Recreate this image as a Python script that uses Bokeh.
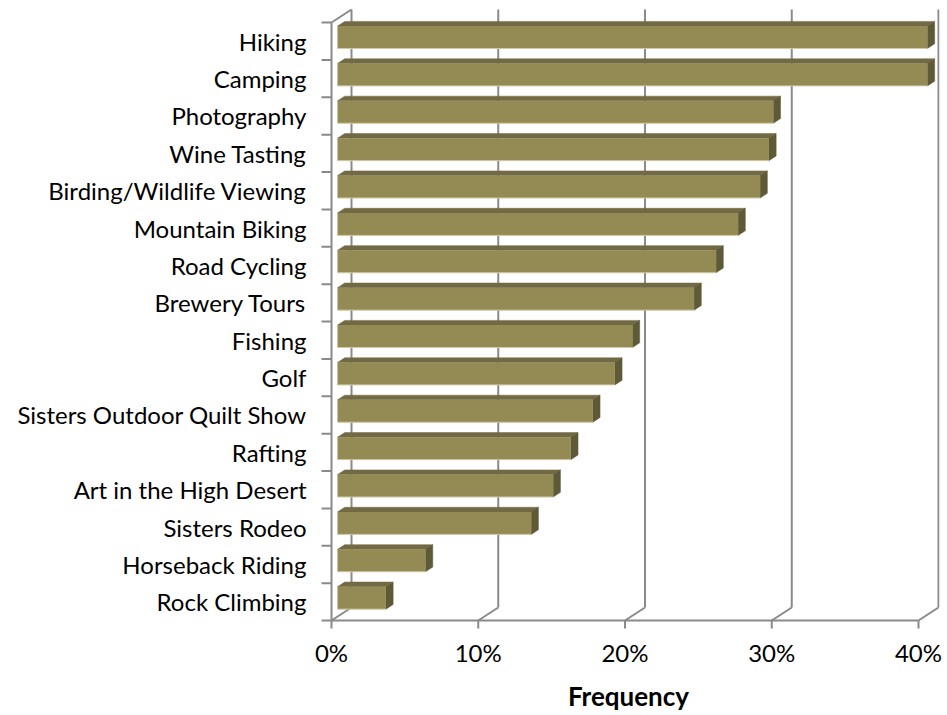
from bokeh.plotting import figure
from bokeh.models import Range1d, FixedTicker
from bokeh.embed import file_html
from bokeh.resources import INLINE

# ---- data ----
categories = ["Rock Climbing", "Horseback Riding", "Sisters Rodeo", "Art in the High Desert",
              "Rafting", "Sisters Outdoor Quilt Show", "Golf", "Fishing", "Brewery Tours",
              "Road Cycling", "Mountain Biking", "Birding/Wildlife Viewing", "Wine Tasting",
              "Photography", "Camping", "Hiking"]
frequency = [3.3, 6.0, 13.2, 14.7, 15.9, 17.4, 18.9, 20.1, 24.3, 25.8, 27.3, 28.8, 29.4,
             29.7, 40.2, 40.2]
x_ticks = [0, 10, 20, 30, 40]
x_tick_labels = ["0%", "10%", "20%", "30%", "40%"]
axis_title = "Frequency"

# ---- styling / geometry ----
FONT = "Lato"
FSIZE = "24px"
GRID = "#8a8a8a"
FRONT = "#948A54"
TOP = "#716A45"
SIDE = "#5E5937"
DX = 20 / 14.675      # depth offset in % units
DY = 13 / 37.375      # depth offset in category units
F0, F1 = 0.30, 0.66   # bar depth start / end fraction
BAR_H = 0.60
N = len(categories)
XMAX = x_ticks[-1]

p = figure(frame_width=622, frame_height=622, min_border_left=317, min_border_right=5,
           min_border_top=8, min_border_bottom=85,
           x_range=Range1d(-14 / 14.675, -14 / 14.675 + 622 / 14.675),
           y_range=Range1d(-10 / 37.375, -10 / 37.375 + 622 / 37.375),
           output_backend="svg", toolbar_location=None, tools="")
p.outline_line_color = None
p.xgrid.visible = False
p.ygrid.visible = False
p.background_fill_color = "white"

# back wall vertical gridlines
p.segment(x0=[t + DX for t in x_ticks], y0=[DY] * len(x_ticks),
          x1=[t + DX for t in x_ticks], y1=[N + DY] * len(x_ticks),
          line_color=GRID, line_width=2)
# floor diagonals
p.segment(x0=x_ticks, y0=[0] * len(x_ticks), x1=[t + DX for t in x_ticks],
          y1=[DY] * len(x_ticks), line_color=GRID, line_width=2)
# front bottom line & front left axis line & top-left diagonal
p.segment(x0=[0, 0, 0], y0=[0, 0, N], x1=[XMAX, 0, DX], y1=[0, N, N + DY],
          line_color=GRID, line_width=2)
# left tick marks (category boundaries)
p.segment(x0=[-10 / 14.675] * (N + 1), y0=list(range(N + 1)), x1=[0] * (N + 1),
          y1=list(range(N + 1)), line_color=GRID, line_width=2)
# bottom tick marks
p.segment(x0=x_ticks, y0=[0] * len(x_ticks), x1=x_ticks, y1=[-8 / 37.375] * len(x_ticks),
          line_color=GRID, line_width=2)

# bars
x0 = [F0 * DX] * N
x1 = [F0 * DX + v for v in frequency]
yc = [i + 0.5 + F0 * DY for i in range(N)]
yb = [c - BAR_H / 2 for c in yc]
yt = [c + BAR_H / 2 for c in yc]
ddx = (F1 - F0) * DX
ddy = (F1 - F0) * DY

top_xs = [[a, b, b + ddx, a + ddx] for a, b in zip(x0, x1)]
top_ys = [[t, t, t + ddy, t + ddy] for t in yt]
side_xs = [[b, b, b + ddx, b + ddx] for b in x1]
side_ys = [[lo, hi, hi + ddy, lo + ddy] for lo, hi in zip(yb, yt)]

p.patches(xs=top_xs, ys=top_ys, fill_color=TOP, line_color=TOP, line_width=0.5)
p.patches(xs=side_xs, ys=side_ys, fill_color=SIDE, line_color=SIDE, line_width=0.5)
p.quad(left=x0, right=x1, bottom=yb, top=yt, fill_color=FRONT, line_color=None)
p.segment(x0=x0, y0=yb, x1=x1, y1=yb, line_color="#cfc9a4", line_width=1)

# axes: labels only
yax = p.yaxis[0]
yax.ticker = FixedTicker(ticks=[i + 0.5 for i in range(N)])
yax.major_label_overrides = {i + 0.5: c for i, c in enumerate(categories)}
yax.axis_line_color = None
yax.major_tick_line_color = None
yax.minor_tick_line_color = None
yax.major_tick_out = 0
yax.major_tick_in = 0
yax.major_label_standoff = 11
yax.major_label_text_font = FONT
yax.major_label_text_font_size = FSIZE
yax.major_label_text_color = "black"

xax = p.xaxis[0]
xax.ticker = FixedTicker(ticks=x_ticks)
xax.major_label_overrides = {t: l for t, l in zip(x_ticks, x_tick_labels)}
xax.axis_line_color = None
xax.major_tick_line_color = None
xax.minor_tick_line_color = None
xax.major_tick_out = 0
xax.major_tick_in = 0
xax.major_label_standoff = 7
xax.major_label_text_font = FONT
xax.major_label_text_font_size = FSIZE
xax.major_label_text_color = "black"
xax.axis_label = axis_title
xax.axis_label_text_font = FONT
xax.axis_label_text_font_size = "26px"
xax.axis_label_text_font_style = "bold"
xax.axis_label_text_color = "black"
xax.axis_label_standoff = 10

open("out.html", "w").write(file_html(p, INLINE))
